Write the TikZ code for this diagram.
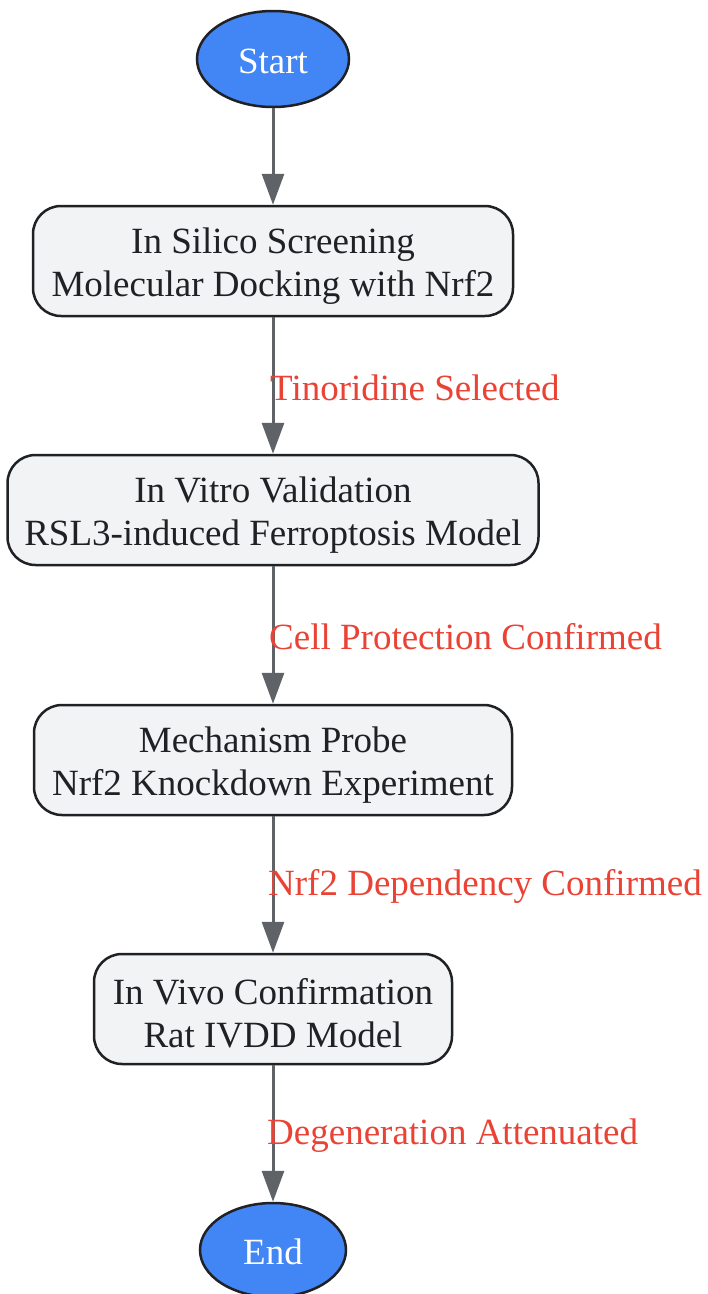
\documentclass[tikz,border=0pt]{standalone}
\usepackage{fontspec}
\setmainfont{Liberation Serif}
\usetikzlibrary{arrows.meta,shapes.geometric}
\definecolor{blueF}{HTML}{4285F4}
\definecolor{boxF}{HTML}{F1F3F4}
\definecolor{edgeD}{HTML}{202124}
\definecolor{arrC}{HTML}{5F6368}
\definecolor{lblC}{HTML}{EA4335}
\newcommand{\topstrut}{\rule{0pt}{35pt}}
\begin{document}
\begin{tikzpicture}[x=1pt,y=-1pt,
  term/.style={ellipse, draw=edgeD, line width=2.5pt, fill=blueF, text=white, inner sep=0pt, execute at begin node={\rule{0pt}{29pt}}},
  stepbox/.style={rectangle, rounded corners=28pt, draw=edgeD, line width=2.5pt, fill=boxF, text=edgeD, align=center, minimum height=110pt, inner sep=0pt},
  arr/.style={draw=arrC, line width=3pt, -{Triangle[length=31pt,width=22pt]}},
  lbl/.style={text=lblC, anchor=west, inner sep=0pt},
  every node/.append style={font=\fontsize{37}{43}\selectfont}]
\useasboundingbox (0,0) rectangle (708,1294);
\fill[white] (0,0) rectangle (708,1294);
\node[term, minimum width=152pt, minimum height=96pt] (start) at (273,59) {Start};
\node[stepbox, minimum width=480pt] (b1) at (273,261) {\topstrut In Silico Screening\\Molecular Docking with Nrf2};
\node[stepbox, minimum width=531pt] (b2) at (273,510) {\topstrut In Vitro Validation\\RSL3-induced Ferroptosis Model};
\node[stepbox, minimum width=478pt] (b3) at (273,760) {\topstrut Mechanism Probe\\Nrf2 Knockdown Experiment};
\node[stepbox, minimum width=358pt] (b4) at (273,1009) {\topstrut In Vivo Confirmation\\Rat IVDD Model};
\node[term, minimum width=146pt, minimum height=94pt] (end) at (273,1250) {End};
\draw[arr] (start) -- (b1);
\draw[arr] (b1) -- (b2);
\draw[arr] (b2) -- (b3);
\draw[arr] (b3) -- (b4);
\draw[arr] (b4) -- (end);
\path (b1.south) -- node[lbl, xshift=-3pt, yshift=-2pt] {Tinoridine Selected} (b2.north);
\path (b2.south) -- node[lbl, xshift=-4pt, yshift=-2pt] {Cell Protection Confirmed} (b3.north);
\path (b3.south) -- node[lbl, xshift=-5pt, yshift=-2pt] {Nrf2 Dependency Confirmed} (b4.north);
\path (b4.south) -- node[lbl, xshift=-6pt, yshift=-2pt] {Degeneration Attenuated} (end.north);
\end{tikzpicture}
\end{document}
